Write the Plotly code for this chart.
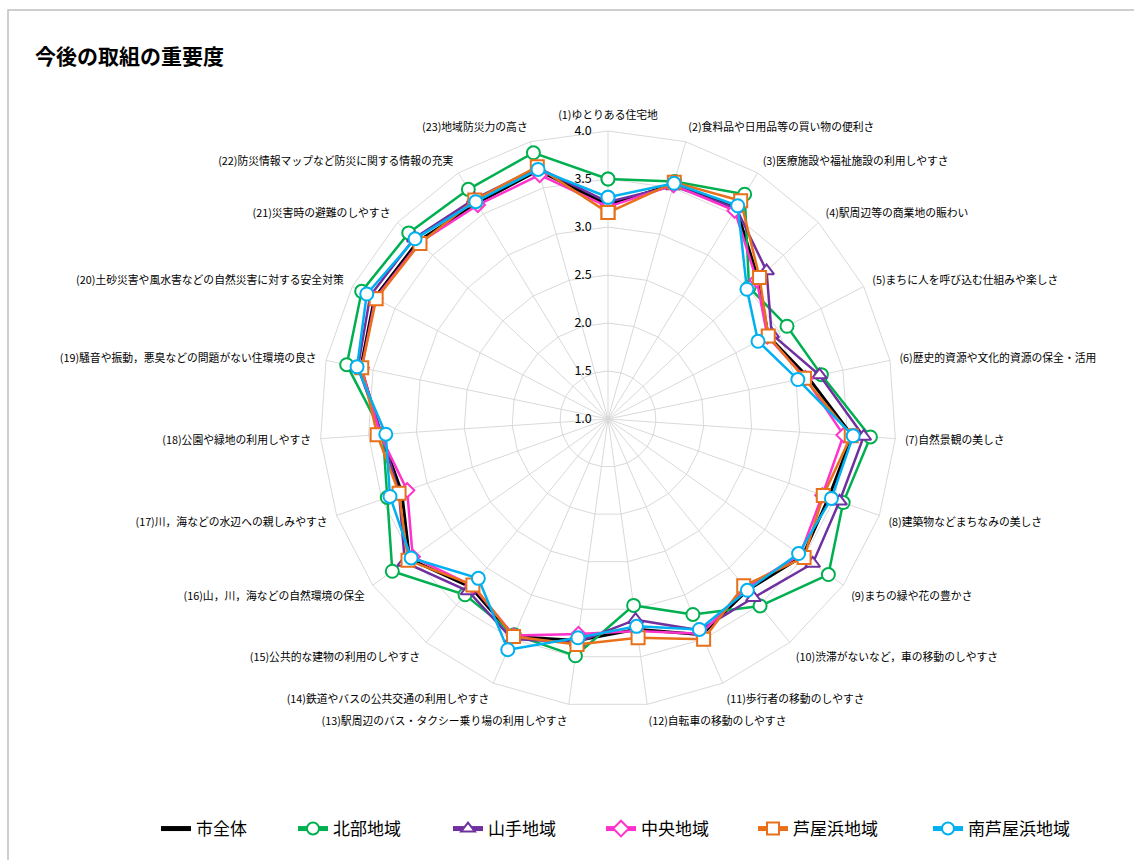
import plotly.graph_objects as go

categories = [
    "(1)ゆとりある住宅地",
    "(2)食料品や日用品等の買い物の便利さ",
    "(3)医療施設や福祉施設の利用しやすさ",
    "(4)駅周辺等の商業地の賑わい",
    "(5)まちに人を呼び込む仕組みや楽しさ",
    "(6)歴史的資源や文化的資源の保全・活用",
    "(7)自然景観の美しさ",
    "(8)建築物などまちなみの美しさ",
    "(9)まちの緑や花の豊かさ",
    "(10)渋滞がないなど，車の移動のしやすさ",
    "(11)歩行者の移動のしやすさ",
    "(12)自転車の移動のしやすさ",
    "(13)駅周辺のバス・タクシー乗り場の利用しやすさ",
    "(14)鉄道やバスの公共交通の利用しやすさ",
    "(15)公共的な建物の利用のしやすさ",
    "(16)山，川，海などの自然環境の保全",
    "(17)川，海などの水辺への親しみやすさ",
    "(18)公園や緑地の利用しやすさ",
    "(19)騒音や振動，悪臭などの問題がない住環境の良さ",
    "(20)土砂災害や風水害などの自然災害に対する安全対策",
    "(21)災害時の避難のしやすさ",
    "(22)防災情報マップなど防災に関する情報の充実",
    "(23)地域防災力の高さ",
]

city_all   = [3.23, 3.54, 3.57, 3.14, 2.88, 3.13, 3.55, 3.44, 3.48, 3.30, 3.45, 3.21, 3.33, 3.47, 3.26, 3.53, 3.28, 3.37, 3.63, 3.74, 3.71, 3.63, 3.69]
hokubu     = [3.50, 3.57, 3.74, 3.01, 3.10, 3.27, 3.74, 3.60, 3.81, 3.51, 3.22, 2.96, 3.49, 3.45, 3.36, 3.75, 3.44, 3.35, 3.78, 3.89, 3.84, 3.80, 3.88]
yamate     = [3.26, 3.52, 3.57, 3.26, 2.92, 3.25, 3.67, 3.56, 3.61, 3.40, 3.40, 3.11, 3.35, 3.50, 3.31, 3.59, 3.31, 3.36, 3.66, 3.79, 3.76, 3.68, 3.72]
chuo       = [3.21, 3.53, 3.54, 3.12, 2.87, 3.10, 3.46, 3.37, 3.45, 3.27, 3.44, 3.23, 3.26, 3.46, 3.24, 3.49, 3.22, 3.38, 3.62, 3.73, 3.69, 3.61, 3.64]
ashiyahama = [3.15, 3.56, 3.66, 3.16, 2.88, 3.09, 3.54, 3.38, 3.50, 3.24, 3.50, 3.30, 3.37, 3.47, 3.23, 3.55, 3.31, 3.41, 3.62, 3.72, 3.68, 3.67, 3.73]
minami     = [3.31, 3.55, 3.60, 2.98, 2.76, 3.02, 3.56, 3.47, 3.43, 3.30, 3.39, 3.18, 3.30, 3.62, 3.14, 3.51, 3.41, 3.32, 3.67, 3.83, 3.75, 3.65, 3.70]

radial_ticks = [1.0, 1.5, 2.0, 2.5, 3.0, 3.5, 4.0]

series_names = ["市全体", "北部地域", "山手地域", "中央地域", "芦屋浜地域", "南芦屋浜地域"]
series_values = [city_all, hokubu, yamate, chuo, ashiyahama, minami]
colors = ["#000000", "#00B050", "#7030A0", "#FF33CC", "#E8701A", "#00B0F0"]
symbols = [None, "circle", "triangle-up", "diamond", "square", "circle"]
sizes = [0, 13, 13, 11, 13, 13]
legend_x_px = [156, 293, 448, 601, 753, 928]

W, H = 1134, 860
FONT = "Noto Sans CJK JP"

# invisible padding after each radial tick label so the visible number sits left of the axis
pad = "<span style='color:rgba(0,0,0,0)'>00</span>"
radial_ticktext = [f"{v:.1f}{pad}" for v in radial_ticks]

fig = go.Figure()
for i, (name, vals) in enumerate(zip(series_names, series_values)):
    lg = "legend" if i == 0 else f"legend{i+1}"
    kw = dict(
        r=vals + [vals[0]],
        theta=categories + [categories[0]],
        name=name,
        legend=lg,
        line=dict(color=colors[i], width=3 if i == 0 else 2.5),
    )
    if symbols[i] is None:
        kw["mode"] = "lines"
    else:
        kw["mode"] = "lines+markers"
        kw["marker"] = dict(symbol=symbols[i], size=sizes[i], color="white",
                            line=dict(color=colors[i], width=2))
    fig.add_trace(go.Scatterpolar(**kw))

cx, cy, R = 608, 419, 288
layout_legends = {}
for i, xp in enumerate(legend_x_px):
    key = "legend" if i == 0 else f"legend{i+1}"
    layout_legends[key] = dict(
        x=xp / W, y=1 - 829 / H, xanchor="left", yanchor="middle",
        orientation="h", font=dict(family=FONT, size=17, color="#000000"),
        bgcolor="rgba(0,0,0,0)", itemwidth=30, itemsizing="constant",
    )

fig.update_layout(
    width=W, height=H,
    margin=dict(l=0, r=0, t=0, b=0),
    paper_bgcolor="white",
    plot_bgcolor="white",
    font=dict(family=FONT, size=11, color="#000000"),
    showlegend=True,
    polar=dict(
        domain=dict(x=[(cx - R) / W, (cx + R) / W], y=[1 - (cy + R) / H, 1 - (cy - R) / H]),
        bgcolor="white",
        gridshape="linear",
        radialaxis=dict(
            range=[1, 4], tickvals=radial_ticks, ticktext=radial_ticktext,
            showline=False, ticks="", gridcolor="#D9D9D9", gridwidth=1,
            angle=90, side="counterclockwise", tickangle=90,
            tickfont=dict(family=FONT, size=12.5, color="#000000"),
        ),
        angularaxis=dict(
            rotation=90, direction="clockwise",
            gridcolor="#D9D9D9", linecolor="#D9D9D9", linewidth=1,
            ticks="outside", ticklen=7, tickcolor="rgba(0,0,0,0)",
            tickfont=dict(family=FONT, size=10.8, color="#000000"),
        ),
    ),
    annotations=[
        dict(text="<b>今後の取組の重要度</b>", x=33 / W, y=1 - 55 / H,
             xref="paper", yref="paper", xanchor="left", yanchor="middle",
             showarrow=False, font=dict(family=FONT, size=21, color="#000000")),
    ],
    shapes=[
        dict(type="rect", xref="paper", yref="paper",
             x0=8 / W, x1=1.02, y0=-0.02, y1=1 - 10 / H,
             line=dict(color="#BFBFBF", width=1.5), fillcolor="rgba(0,0,0,0)"),
    ],
    **layout_legends,
)

fig.write_html("out.html")
